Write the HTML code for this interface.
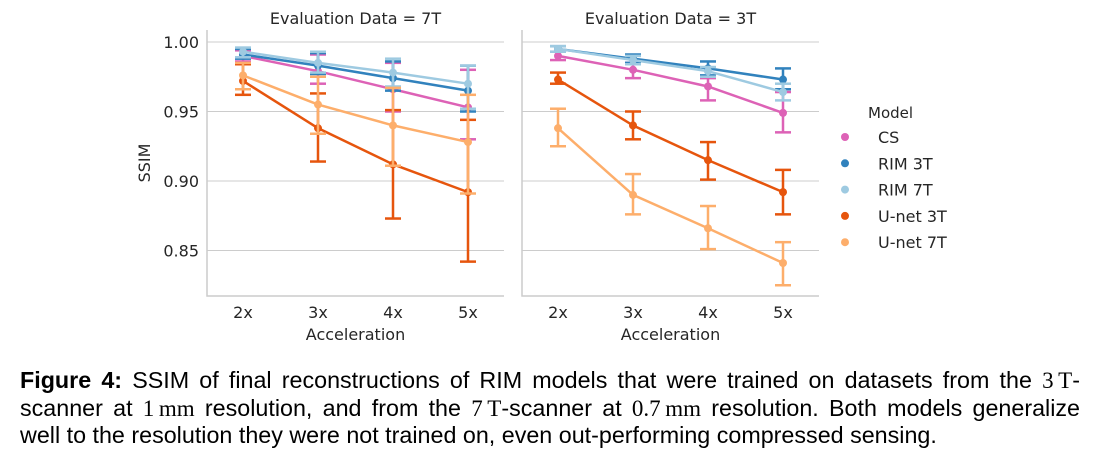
<!DOCTYPE html>
<html><head><meta charset="utf-8"><style>
body{margin:0;background:#fff;width:1097px;height:463px;overflow:hidden;font-family:"DejaVu Sans","Liberation Sans",sans-serif}
svg text{font-family:"DejaVu Sans","Liberation Sans",sans-serif;fill:#262626}
.cap{position:absolute;left:20px;top:367px;font-family:"Liberation Sans",sans-serif;font-size:23.3px;line-height:26.5px;color:#000;width:1060px}
.cap div{white-space:nowrap}
.j{text-align:justify;text-align-last:justify}
.m{font-family:"Liberation Serif",serif;font-size:23px}
</style></head><body>
<svg id="chart" width="1097" height="360" style="position:absolute;left:0;top:0"></svg>
<div class="cap">
<div class="j"><b>Figure 4:</b> SSIM of final reconstructions of RIM models that were trained on datasets from the <span class="m">3&#8201;T</span>-</div>
<div class="j">scanner at <span class="m">1&#8201;mm</span> resolution, and from the <span class="m">7&#8201;T</span>-scanner at <span class="m">0.7&#8201;mm</span> resolution. Both models generalize</div>
<div>well to the resolution they were not trained on, even out-performing compressed sensing.</div>
</div>
<script>
const categories=["2x","3x","4x","5x"];
const models=["CS","RIM 3T","RIM 7T","U-net 3T","U-net 7T"];
const colors=["#dd62b6","#3182bd","#9ecae1","#e6550d","#fdae6b"];
const yTicks=[0.85,0.90,0.95,1.00];
const panels=["Evaluation Data = 7T","Evaluation Data = 3T"];
// left panel (7T)
const L_mean=[[0.990,0.979,0.966,0.953],[0.991,0.983,0.974,0.965],[0.993,0.985,0.978,0.970],[0.972,0.938,0.912,0.892],[0.976,0.955,0.940,0.928]];
const L_lo=[[0.986,0.970,0.950,0.930],[0.988,0.977,0.965,0.950],[0.989,0.978,0.968,0.952],[0.962,0.914,0.873,0.842],[0.966,0.934,0.911,0.891]];
const L_hi=[[0.994,0.991,0.985,0.980],[0.995,0.992,0.986,0.983],[0.996,0.993,0.988,0.983],[0.984,0.963,0.951,0.944],[0.985,0.975,0.967,0.962]];
// right panel (3T)
const R_mean=[[0.990,0.980,0.968,0.949],[0.995,0.988,0.981,0.973],[0.995,0.987,0.979,0.964],[0.973,0.940,0.915,0.892],[0.938,0.890,0.866,0.841]];
const R_lo=[[0.987,0.974,0.958,0.935],[0.993,0.985,0.976,0.966],[0.993,0.984,0.975,0.958],[0.970,0.930,0.901,0.876],[0.925,0.876,0.851,0.825]];
const R_hi=[[0.993,0.985,0.974,0.964],[0.997,0.991,0.986,0.981],[0.997,0.990,0.982,0.970],[0.978,0.950,0.928,0.908],[0.952,0.905,0.882,0.856]];

const svg=document.getElementById('chart');
const NS='http://www.w3.org/2000/svg';
function mk(t,a,p){const e=document.createElementNS(NS,t);for(const k in a)e.setAttribute(k,a[k]);(p||svg).appendChild(e);return e;}
const y=v=>42+(1-v)*1390;
const panelX=[207,522], panelW=297, topY=30, bottomY=296;
const x=(p,i)=>panelX[p]+36+i*(panelW-72)/(categories.length-1);
const data=[[L_mean,L_lo,L_hi],[R_mean,R_lo,R_hi]];
for(let p=0;p<2;p++){
  const g=mk('g',{});
  
  
  yTicks.forEach(t=>{const l=mk('line',{x1:panelX[p],x2:panelX[p]+panelW,y1:y(t),y2:y(t),stroke:'#cccccc','stroke-width':1},g);
    
    if(p==0){const tx=mk('text',{x:panelX[0]-8,y:y(t)+6,'text-anchor':'end','font-size':16},g);tx.textContent=t.toFixed(2);
      }});
  const ax=mk('path',{d:`M${panelX[p]},${topY} V${bottomY} H${panelX[p]+panelW}`,stroke:'#cccccc',fill:'none','stroke-width':1.5},g);
  
  const tt=mk('text',{x:panelX[p]+panelW/2,y:24,'text-anchor':'middle','font-size':16},g);tt.textContent=panels[p];
  
  categories.forEach((c,i)=>{const tx=mk('text',{x:x(p,i),y:318,'text-anchor':'middle','font-size':16},g);tx.textContent=c;
    });
  const xl=mk('text',{x:panelX[p]+panelW/2,y:340,'text-anchor':'middle','font-size':16},g);xl.textContent='Acceleration';
  
  const [M,LO,HI]=data[p];
  models.forEach((m,s)=>{
    const sg=mk('g',{},g);
    
    
    const pts=M[s].map((v,i)=>x(p,i)+','+y(v)).join(' ');
    mk('polyline',{points:pts,fill:'none',stroke:colors[s],'stroke-width':2.5},sg);
    M[s].forEach((v,i)=>{
      const xi=x(p,i);
      mk('line',{x1:xi,x2:xi,y1:y(LO[s][i]),y2:y(HI[s][i]),stroke:colors[s],'stroke-width':2.5},sg);
      [LO[s][i],HI[s][i]].forEach(b=>mk('line',{x1:xi-8,x2:xi+8,y1:y(b),y2:y(b),stroke:colors[s],'stroke-width':2.5},sg));
      const c=mk('circle',{cx:xi,cy:y(v),r:4,fill:colors[s]},sg);
      
      
    });
  });
}
const yt=mk('text',{x:0,y:0,'text-anchor':'middle','font-size':16,transform:'translate(150,163) rotate(-90)'});yt.textContent='SSIM';


const lg=mk('g',{});


const lt=mk('text',{x:868,y:118,'font-size':15},lg);lt.textContent='Model';
models.forEach((m,s)=>{
  const yy=137+s*26.3;
  const e=mk('g',{},lg);
  
  
  mk('circle',{cx:845,cy:yy,r:4,fill:colors[s]},e);
  const t=mk('text',{x:878,y:yy+6,'font-size':16},e);t.textContent=m;
});
</script>
</body></html>
